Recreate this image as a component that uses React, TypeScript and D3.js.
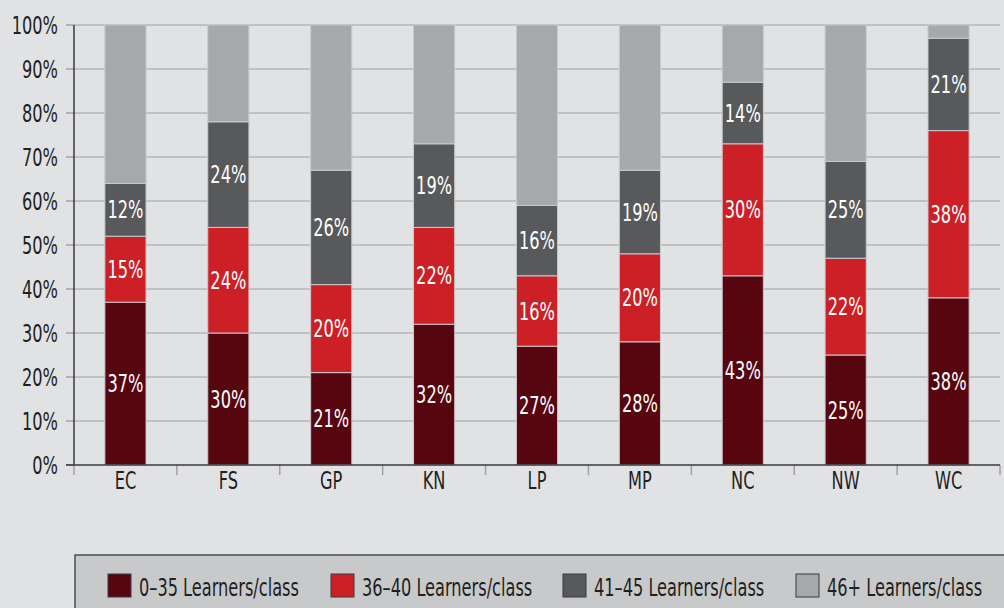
import React, { useEffect, useRef } from 'react';
import * as d3 from 'd3';

const provinces = ['EC', 'FS', 'GP', 'KN', 'LP', 'MP', 'NC', 'NW', 'WC'];
const seriesNames = ['0–35 Learners/class', '36–40 Learners/class', '41–45 Learners/class', '46+ Learners/class'];
const seriesColors = ['#57050f', '#cc1f26', '#58595b', '#a6a8ab'];

// segment heights as drawn (percent)
const small = [37, 30, 21, 32, 27, 28, 43, 25, 38];
const medium = [15, 24, 20, 22, 16, 20, 30, 22, 38];
const large = [12, 24, 26, 19, 16, 19, 14, 22, 21];
const huge = [36, 22, 33, 27, 41, 33, 13, 31, 3];

// printed labels (46+ not labelled)
const smallLabels = ['37%', '30%', '21%', '32%', '27%', '28%', '43%', '25%', '38%'];
const mediumLabels = ['15%', '24%', '20%', '22%', '16%', '20%', '30%', '22%', '38%'];
const largeLabels = ['12%', '24%', '26%', '19%', '16%', '19%', '14%', '25%', '21%'];

const yTicks = [0, 10, 20, 30, 40, 50, 60, 70, 80, 90, 100];

const FONT = '"DejaVu Sans Condensed", "Liberation Sans Narrow", "Arial Narrow", sans-serif';
const FONT_SIZE = '24px';
const SQUEEZE = 0.75; // font is wider than the condensed original

const App = () => {
  const svgRef = useRef<SVGSVGElement>(null);

  useEffect(() => {
    const width = 1004;
    const height = 608;
    const marginLeft = 74;
    const marginRight = 4;
    const marginTop = 25;
    const plotBottom = 465;

    const svg = d3.select(svgRef.current);
    svg.selectAll('*').remove();

    svg.append('rect').attr('width', width).attr('height', height).attr('fill', '#e1e2e3');

    const x = d3.scaleBand().domain(provinces).range([marginLeft, width - marginRight]).paddingInner(0.6).paddingOuter(0.3);
    const xOuter = d3.scaleBand().domain(provinces).range([marginLeft, width - marginRight]);
    const y = d3.scaleLinear().domain([0, 100]).range([plotBottom, marginTop]);

    const at = (px: number, py: number) => `translate(${px},${py}) scale(${SQUEEZE},1)`;

    // grid lines
    svg.append('g')
      .selectAll('line')
      .data(yTicks.slice(1))
      .join('line')
      .attr('x1', marginLeft)
      .attr('x2', width - marginRight)
      .attr('y1', d => y(d))
      .attr('y2', d => y(d))
      .attr('stroke', '#b5b6b8')
      .attr('stroke-width', 1.5);

    // stack
    const rows = provinces.map((p, i) => ({ p, s0: small[i], s1: medium[i], s2: large[i], s3: huge[i] }));
    const stack = d3.stack<any>().keys(['s0', 's1', 's2', 's3'])(rows);
    const labelSets = [smallLabels, mediumLabels, largeLabels, null];

    stack.forEach((layer, li) => {
      const g = svg.append('g');
      g.selectAll('rect')
        .data(layer)
        .join('rect')
        .attr('x', d => x(d.data.p)!)
        .attr('width', x.bandwidth())
        .attr('y', d => y(d[1]))
        .attr('height', d => y(d[0]) - y(d[1]))
        .attr('fill', seriesColors[li])
        .attr('stroke', '#c9cacc')
        .attr('stroke-width', 1);
      const labels = labelSets[li];
      if (labels) {
        g.selectAll('text')
          .data(layer)
          .join('text')
          .attr('transform', d => at(x(d.data.p)! + x.bandwidth() / 2, (y(d[0]) + y(d[1])) / 2))
          .attr('dy', '0.36em')
          .attr('text-anchor', 'middle')
          .attr('fill', '#ffffff')
          .style('font-family', FONT)
          .style('font-size', FONT_SIZE)
          .text((d, i) => labels[i]);
      }
    });

    // y axis
    const yAxis = svg.append('g');
    yAxis.selectAll('line.tick')
      .data(yTicks)
      .join('line')
      .attr('class', 'tick')
      .attr('x1', marginLeft - 8)
      .attr('x2', marginLeft)
      .attr('y1', d => y(d))
      .attr('y2', d => y(d))
      .attr('stroke', '#a0a1a3')
      .attr('stroke-width', 1.5);
    yAxis.selectAll('text')
      .data(yTicks)
      .join('text')
      .attr('transform', d => at(marginLeft - 16, y(d)))
      .attr('dy', '0.36em')
      .attr('text-anchor', 'end')
      .attr('fill', '#231f20')
      .style('font-family', FONT)
      .style('font-size', FONT_SIZE)
      .text(d => `${d}%`);
    yAxis.append('line')
      .attr('x1', marginLeft).attr('x2', marginLeft)
      .attr('y1', marginTop).attr('y2', plotBottom)
      .attr('stroke', '#3a3a3c').attr('stroke-width', 1.5);

    // x axis
    const xAxis = svg.append('g');
    xAxis.selectAll('line')
      .data([...provinces.map(p => xOuter(p)!), width - marginRight])
      .join('line')
      .attr('x1', d => d).attr('x2', d => d)
      .attr('y1', plotBottom).attr('y2', plotBottom + 10)
      .attr('stroke', '#a0a1a3').attr('stroke-width', 1.5);
    xAxis.append('line')
      .attr('x1', marginLeft - 8).attr('x2', width - marginRight)
      .attr('y1', plotBottom).attr('y2', plotBottom)
      .attr('stroke', '#3a3a3c').attr('stroke-width', 1.5);
    xAxis.selectAll('text')
      .data(provinces)
      .join('text')
      .attr('transform', d => at(x(d)! + x.bandwidth() / 2, 489))
      .attr('text-anchor', 'middle')
      .attr('fill', '#231f20')
      .style('font-family', FONT)
      .style('font-size', FONT_SIZE)
      .text(d => d);

    // legend
    const legend = svg.append('g');
    legend.append('rect')
      .attr('x', 75).attr('y', 555)
      .attr('width', 940).attr('height', 70)
      .attr('fill', '#c8c9cb')
      .attr('stroke', '#4d4e50').attr('stroke-width', 1.5);
    const legendX = [108, 331, 563, 796];
    seriesNames.forEach((name, i) => {
      legend.append('rect')
        .attr('x', legendX[i]).attr('y', 574)
        .attr('width', 23).attr('height', 23)
        .attr('fill', seriesColors[i])
        .attr('stroke', '#3a3a3c').attr('stroke-width', 1);
      legend.append('text')
        .attr('transform', at(legendX[i] + 31, 596))
        .attr('fill', '#231f20')
        .style('font-family', FONT)
        .style('font-size', FONT_SIZE)
        .text(name);
    });
  }, []);

  return (
    <div style={{ position: 'fixed', top: 0, left: 0 }}>
      <svg ref={svgRef} width={1004} height={608} style={{ display: 'block' }} />
    </div>
  );
};

export default App;
